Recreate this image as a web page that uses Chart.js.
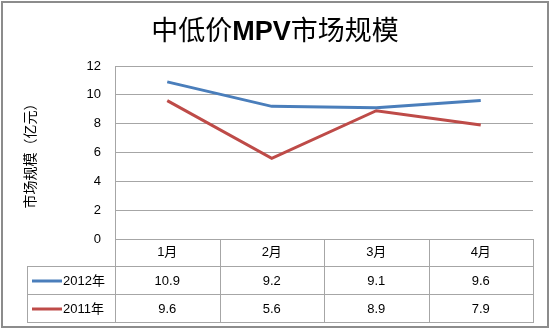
<!DOCTYPE html>
<html>
<head>
<meta charset="utf-8">
<script src="https://cdn.jsdelivr.net/npm/chart.js@4/dist/chart.umd.min.js"></script>
<style>
  body { margin: 0; background: #fff; }
  #wrap { width: 550px; height: 329px; position: relative; }
</style>
</head>
<body>
<div id="wrap"><canvas id="mpv_chart" width="550" height="329"></canvas></div>
<script>
const CATEGORIES = ["1月", "2月", "3月", "4月"];
const SERIES_NAMES = ["2012年", "2011年"];
const SALES_2012 = [10.9, 9.2, 9.1, 9.6];
const SALES_2011 = [9.6, 5.6, 8.9, 7.9];
const SERIES_COLORS = ["#4a7ebb", "#be4b48"];
// title pieces: [text, bold]
const TITLE_PARTS = [["中低价", false], ["MPV", true], ["市场规模", false]];
const Y_TITLE = "市场规模（亿元）";

const FONT = "'Liberation Sans', 'Noto Sans CJK SC', sans-serif";
const GRID_COLOR = "#a6a6a6";
const ROW_H = 28;

// title with a bold "MPV" in the middle
const mixedTitle = {
  id: "mixedTitle",
  afterDraw(chart) {
    const ctx = chart.ctx;
    ctx.save();
    ctx.fillStyle = "#000";
    ctx.textBaseline = "middle";
    ctx.textAlign = "left";
    let widths = TITLE_PARTS.map(function (p) {
      ctx.font = (p[1] ? "bold " : "") + "27px " + FONT;
      return ctx.measureText(p[0]).width;
    });
    let total = widths.reduce(function (a, b) { return a + b; }, 0);
    let x = chart.width / 2 - total / 2;
    TITLE_PARTS.forEach(function (p, i) {
      ctx.font = (p[1] ? "bold " : "") + "27px " + FONT;
      ctx.fillText(p[0], x, 33);
      x += widths[i];
    });
    ctx.restore();
  }
};

// data table under the plot, drawn from the x scale
const dataTable = {
  id: "dataTable",
  afterDraw(chart) {
    const ctx = chart.ctx;
    const x = chart.scales.x;
    const area = chart.chartArea;
    const left = x.left;
    const right = x.right;
    const top = area.bottom;
    const labelLeft = 27;
    let colEdges = [];
    for (let i = 0; i <= CATEGORIES.length; i++) {
      colEdges.push(left + (right - left) * i / CATEGORIES.length);
    }
    ctx.save();
    ctx.strokeStyle = GRID_COLOR;
    ctx.lineWidth = 1;
    ctx.beginPath();
    // vertical lines
    colEdges.forEach(function (cx) {
      cx = Math.round(cx) + 0.5;
      ctx.moveTo(cx, top);
      ctx.lineTo(cx, top + ROW_H * 3);
    });
    ctx.moveTo(labelLeft + 0.5, top + ROW_H);
    ctx.lineTo(labelLeft + 0.5, top + ROW_H * 3);
    // horizontal lines
    for (let r = 1; r <= 3; r++) {
      let y = Math.round(top + ROW_H * r) - 0.5;
      ctx.moveTo(labelLeft, y);
      ctx.lineTo(right, y);
    }
    ctx.stroke();

    const rows = [SALES_2012, SALES_2011];
    ctx.font = "13px " + FONT;
    ctx.textBaseline = "middle";
    ctx.fillStyle = "#000";
    rows.forEach(function (vals, r) {
      let cy = top + ROW_H * (r + 1) + ROW_H / 2;
      ctx.textAlign = "center";
      vals.forEach(function (v, i) {
        ctx.fillText(v.toFixed(1), x.getPixelForValue(i), cy);
      });
      // legend key
      ctx.strokeStyle = SERIES_COLORS[r];
      ctx.lineWidth = 3;
      ctx.beginPath();
      ctx.moveTo(32, cy);
      ctx.lineTo(62, cy);
      ctx.stroke();
      ctx.textAlign = "left";
      ctx.fillText(SERIES_NAMES[r], 63, cy);
    });

    // outer frame
    ctx.strokeStyle = "#8c8c8c";
    ctx.lineWidth = 2;
    ctx.strokeRect(2, 2, chart.width - 4, chart.height - 4);
    ctx.restore();
  }
};

function init() {
  const ctx = document.getElementById("mpv_chart");
  new Chart(ctx, {
    type: "line",
    data: {
      labels: CATEGORIES,
      datasets: [
        { label: SERIES_NAMES[0], data: SALES_2012, borderColor: SERIES_COLORS[0], backgroundColor: SERIES_COLORS[0] },
        { label: SERIES_NAMES[1], data: SALES_2011, borderColor: SERIES_COLORS[1], backgroundColor: SERIES_COLORS[1] }
      ]
    },
    options: {
      responsive: false,
      animation: false,
      layout: { padding: { left: 0, right: 17, top: 66, bottom: 7 } },
      elements: {
        line: { borderWidth: 3, tension: 0 },
        point: { radius: 0, hoverRadius: 0 }
      },
      plugins: {
        legend: { display: false },
        tooltip: { enabled: false },
        title: { display: false }
      },
      scales: {
        x: {
          offset: true,
          grid: { display: false, drawTicks: false },
          border: { display: false },
          ticks: { color: "#000", font: { family: FONT, size: 13 }, padding: 6 },
          afterFit: function (s) { s.height = ROW_H * 3 - 1; }
        },
        y: {
          min: 0,
          max: 12,
          ticks: { stepSize: 2, color: "#000", font: { family: FONT, size: 13 }, padding: 14 },
          grid: { color: GRID_COLOR, drawTicks: false },
          border: { display: true, color: GRID_COLOR },
          title: {
            display: true,
            text: Y_TITLE,
            color: "#000",
            font: { family: FONT, size: 14, weight: "normal" },
            padding: { top: 23 }
          },
          afterFit: function (s) { s.width = 115; }
        }
      }
    },
    plugins: [mixedTitle, dataTable]
  });
}

window.onload = init;
</script>
</body>
</html>
